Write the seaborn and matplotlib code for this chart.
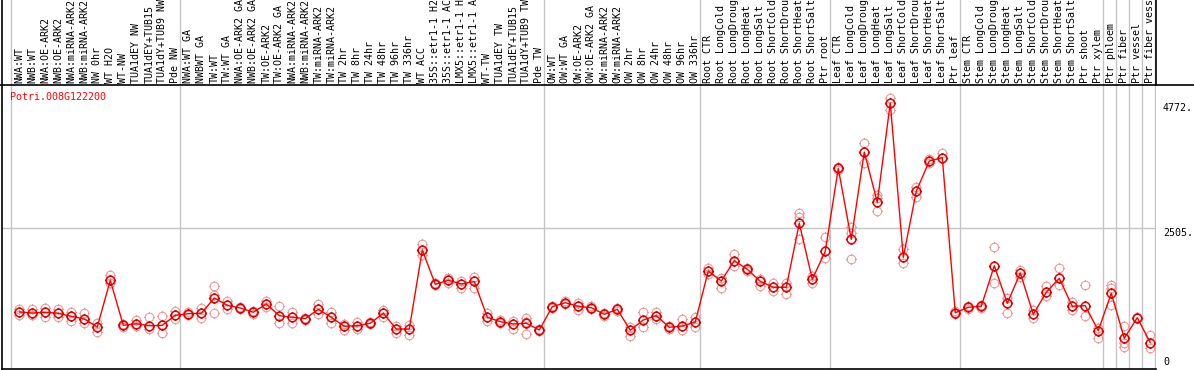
import numpy as np
import pandas as pd
import matplotlib
matplotlib.use("Agg")
import matplotlib.pyplot as plt
from matplotlib.path import Path
from matplotlib.lines import Line2D
from matplotlib.transforms import blended_transform_factory
import seaborn as sns

gene = "Potri.008G122200"

labels = [
    "NWA:WT", "NWB:WT", "NWA:OE-ARK2", "NWB:OE-ARK2", "NWA:miRNA-ARK2",
    "NWB:miRNA-ARK2", "NW 0hr", "WT H2O", "WT-NW", "TUA1dEY NW",
    "TUA1dEY+TUB15", "TUA1dY+TUB9 NW", "Pde NW",
    "NWA:WT GA", "NWBWT GA", "TW:WT", "TW:WT GA", "NWA:OE-ARK2 GA",
    "NWB:OE-ARK2 GA", "TW:OE-ARK2", "TW:OE-ARK2 GA", "NWA:miRNA-ARK2",
    "NWB:miRNA-ARK2", "TW:miRNA-ARK2", "TW:miRNA-ARK2", "TW 2hr", "TW 8hr",
    "TW 24hr", "TW 48hr", "TW 96hr", "TW 336hr", "WT ACC", "35S::etr1-1 H2",
    "35S::etr1-1 AC", "LMX5::etr1-1 H", "LMX5::etr1-1 A", "WT-TW",
    "TUA1dEY TW", "TUA1dEY+TUB15", "TUA1dY+TUB9 TW", "Pde TW",
    "OW:WT", "OW:WT GA", "OW:OE-ARK2", "OW:OE-ARK2 GA", "OW:miRNA-ARK2",
    "OW:miRNA-ARK2", "OW 2hr", "OW 8hr", "OW 24hr", "OW 48hr", "OW 96hr",
    "OW 336hr",
    "Root CTR", "Root LongCold", "Root LongDroug", "Root LongHeat",
    "Root LongSalt", "Root ShortCold", "Root ShortDrou", "Root ShortHeat",
    "Root ShortSalt", "Ptr root",
    "Leaf CTR", "Leaf LongCold", "Leaf LongDroug", "Leaf LongHeat",
    "Leaf LongSalt", "Leaf ShortCold", "Leaf ShortDrou", "Leaf ShortHeat",
    "Leaf ShortSalt", "Ptr leaf",
    "Stem CTR", "Stem LongCold", "Stem LongDroug", "Stem LongHeat",
    "Stem LongSalt", "Stem ShortCold", "Stem ShortDrou", "Stem ShortHeat",
    "Stem ShortSalt", "Ptr shoot", "Ptr xylem",
    "Ptr phloem", "Ptr fiber", "Ptr vessel", "Ptr fiber vess",
]

means = [
    990, 972, 985, 967, 912, 863, 719, 1564, 749, 778, 742, 749, 930,
    959, 967, 1243, 1111, 1062, 985, 1135, 923, 894, 869, 1039, 894, 731,
    742, 786, 967, 682, 682, 2112, 1491, 1564, 1497, 1542, 894, 815, 773,
    786, 664,
    1086, 1158, 1093, 1068, 948, 1039, 659, 845, 923, 713, 737, 809,
    1732, 1551, 1919, 1763, 1546, 1437, 1437, 2596, 1582, 2089,
    3591, 2306, 3886, 2976, 4772, 1980, 3175, 3723, 3783, 977,
    1075, 1093, 1828, 1148, 1696, 948, 1347, 1600, 1093, 1104, 652,
    1329, 514, 887, 434,
]

rep_a = [
    1039, 1039, 1068, 1039, 990, 977, 796, 1660, 770, 845, 894, 912, 1003,
    990, 1057, 1461, 1195, 1080, 1010, 1184, 1093, 990, 890, 1140, 990, 773,
    809, 805, 1026, 737, 749, 2221, 1510, 1605, 1551, 1618, 977, 840, 833,
    876, 685,
    1105, 1180, 1158, 1090, 970, 1060, 724, 985, 985, 735, 858, 905,
    1792, 1611, 2040, 1790, 1593, 1520, 1520, 2787, 1642, 2342,
    3620, 2534, 4043, 3108, 4858, 2125, 3258, 3760, 3873, 1000,
    1100, 1115, 2161, 1238, 1750, 1026, 1461, 1792, 1166, 1479, 706,
    1479, 737, 900, 574,
]

rep_b = [
    936, 930, 894, 894, 822, 786, 633, 1509, 720, 737, 677, 605, 869,
    940, 876, 967, 1039, 1045, 960, 1086, 786, 796, 850, 954, 796, 664,
    677, 765, 894, 616, 574, 2022, 1470, 1509, 1419, 1424, 822, 790, 677,
    586, 645,
    1065, 1135, 1026, 1045, 925, 1015, 556, 724, 869, 690, 664, 713,
    1672, 1430, 1823, 1735, 1461, 1365, 1316, 2311, 1520, 1962,
    3560, 1944, 3692, 2818, 4646, 1882, 3077, 3690, 3772, 955,
    1050, 1070, 1509, 977, 1629, 876, 1280, 1479, 1026, 918, 525,
    1117, 362, 875, 344,
]

nan = np.nan
rep_c = [nan] * 88
rep_c[11] = 760
rep_c[15] = 1294
rep_c[39] = 800
rep_c[60] = 2715
rep_c[64] = 2414
rep_c[66] = 3048
rep_c[84] = 1419
rep_c[85] = 424

group_sizes = [13, 28, 12, 10, 10, 11, 1, 1, 1, 1]
tick_values = [0, 2505, 4772]
tick_text = ["0", "2505.", "4772."]

idx = np.arange(len(means))
rep_df = pd.DataFrame({
    "idx": np.concatenate([idx, idx, idx]),
    "value": np.concatenate([rep_a, rep_b, rep_c]),
}).dropna()
mean_df = pd.DataFrame({"idx": idx, "value": means})

sns.set_style("white")
plt.rcParams["font.family"] = ["DejaVu Sans Mono", "DejaVu Sans"]

W, H = 1194, 370
fig = plt.figure(figsize=(W / 100, H / 100), dpi=100)

# plot area: pixel x 2..1156, y 85..369
ax = fig.add_axes([2 / W, 1 / H, 1154 / W, 284 / H])
ax_top = fig.add_axes([2 / W, 285 / H, 1154 / W, 85 / H])

x_lo, x_hi = -1.33, 87.44
bounds = np.concatenate([[0], np.cumsum(group_sizes)]) - 0.6

# circle with four tiny ticks
ang = np.linspace(0, 2 * np.pi, 41)
verts = [(np.cos(a), np.sin(a)) for a in ang]
codes = [Path.MOVETO] + [Path.LINETO] * 40
for dx, dy in [(1, 0), (-1, 0), (0, 1), (0, -1)]:
    verts += [(dx, dy), (1.3 * dx, 1.3 * dy)]
    codes += [Path.MOVETO, Path.LINETO]
sun = Path(verts, codes)

for b in bounds:
    ax.axvline(b, color="#c4c4c4", lw=1.0, zorder=0)
    ax_top.axvline(b, color="#c4c4c4", lw=1.0, zorder=0)
ax.axhline(2505, color="#c4c4c4", lw=1.0, zorder=0)

# replicates
sns.lineplot(data=rep_df, x="idx", y="value", estimator=None, units=rep_df.index,
             linestyle="", marker=sun, markersize=8, markerfacecolor="none",
             markeredgecolor="#ec9c9c", markeredgewidth=0.8, color="#ec9c9c",
             ax=ax, zorder=2, legend=False)

# mean line
sns.lineplot(data=mean_df, x="idx", y="value", color="#ff0000", lw=1.0,
             ax=ax, zorder=3, legend=False)

# mean markers
sns.lineplot(data=mean_df, x="idx", y="value", linestyle="", marker=sun,
             markersize=8, markerfacecolor="none", markeredgecolor="#e00000",
             markeredgewidth=1.1, color="#e00000", ax=ax, zorder=4,
             legend=False)

ax.set_xlim(x_lo, x_hi)
ax.set_ylim(-42, 5099)
ax.set_xticks([])
ax.set_yticks([])
ax.set_xlabel("")
ax.set_ylabel("")
for s in ["top", "right"]:
    ax.spines[s].set_visible(False)
for s in ["left", "bottom"]:
    ax.spines[s].set_color("black")
    ax.spines[s].set_linewidth(1.2)

ax_top.set_xlim(x_lo, x_hi)
ax_top.set_ylim(0, 1)
ax_top.set_xticks([])
ax_top.set_yticks([])
for s in ["top", "bottom"]:
    ax_top.spines[s].set_visible(False)
for s in ["left", "right"]:
    ax_top.spines[s].set_color("black")
    ax_top.spines[s].set_linewidth(1.2)

for i, lab in enumerate(labels):
    ax_top.text(i, 2 / 85, lab, rotation=90, ha="center", va="bottom",
                fontsize=7.2, color="black")

fig.add_artist(Line2D([0, 1], [285 / H, 285 / H], transform=fig.transFigure,
                      color="black", lw=1.2))

fig.text(10 / W, 1 - 97 / H, gene, color="#ff0000", fontsize=7.2,
         ha="left", va="center")

tr = blended_transform_factory(fig.transFigure, ax.transData)
for v, t in zip(tick_values, tick_text):
    ax.text(1163 / W, v, t, transform=tr, ha="left",
            va="bottom" if v == 0 else "top", fontsize=7.2, color="black",
            clip_on=False)

fig.savefig("out.png", dpi=100)
